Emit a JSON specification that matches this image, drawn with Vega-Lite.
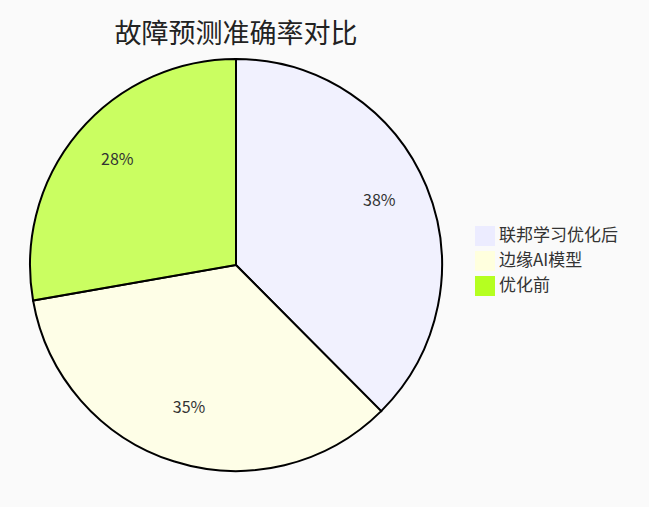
{
  "$schema": "https://vega.github.io/schema/vega-lite/v6.json",
  "autosize": "none",
  "width": 472,
  "height": 472,
  "padding": {"top": 29, "left": 0, "right": 177, "bottom": 6},
  "background": "#FAFAFA",
  "title": {
    "text": "故障预测准确率对比",
    "fontSize": 27,
    "font": "Noto Sans CJK SC",
    "fontWeight": "normal",
    "color": "#222222",
    "anchor": "middle",
    "frame": "group",
    "baseline": "bottom",
    "offset": -18,
    "dy": 29
  },
  "data": {
    "values": [
      {"model": "联邦学习优化后", "accuracy": 92, "idx": 1, "pct": "38%"},
      {"model": "边缘AI模型", "accuracy": 85, "idx": 2, "pct": "35%"},
      {"model": "优化前", "accuracy": 68, "idx": 3, "pct": "28%"}
    ]
  },
  "encoding": {
    "theta": {"field": "accuracy", "type": "quantitative", "stack": true},
    "order": {"field": "idx", "type": "quantitative"}
  },
  "layer": [
    {
      "mark": {"type": "arc", "outerRadius": 206, "stroke": "#000000", "strokeWidth": 2, "fillOpacity": 0.7},
      "encoding": {
        "color": {
          "field": "model",
          "type": "nominal",
          "sort": ["联邦学习优化后", "边缘AI模型", "优化前"],
          "scale": {"domain": ["联邦学习优化后", "边缘AI模型", "优化前"], "range": ["#ECECFF", "#FFFFDE", "#B5FF20"]},
          "legend": {
            "title": null,
            "orient": "none",
            "legendX": 475,
            "legendY": 197,
            "symbolType": "square",
            "symbolSize": 400,
            "symbolStrokeWidth": 0,
            "symbolOpacity": 1,
            "labelFontSize": 17,
            "labelFont": "Noto Sans CJK SC",
            "labelColor": "#333333",
            "labelOffset": 4,
            "rowPadding": 5
          }
        }
      }
    },
    {
      "mark": {"type": "text", "radius": 155, "dy": -5, "fontSize": 16, "font": "Noto Sans CJK SC", "color": "#333333"},
      "encoding": {"text": {"field": "pct", "type": "nominal"}}
    }
  ]
}
